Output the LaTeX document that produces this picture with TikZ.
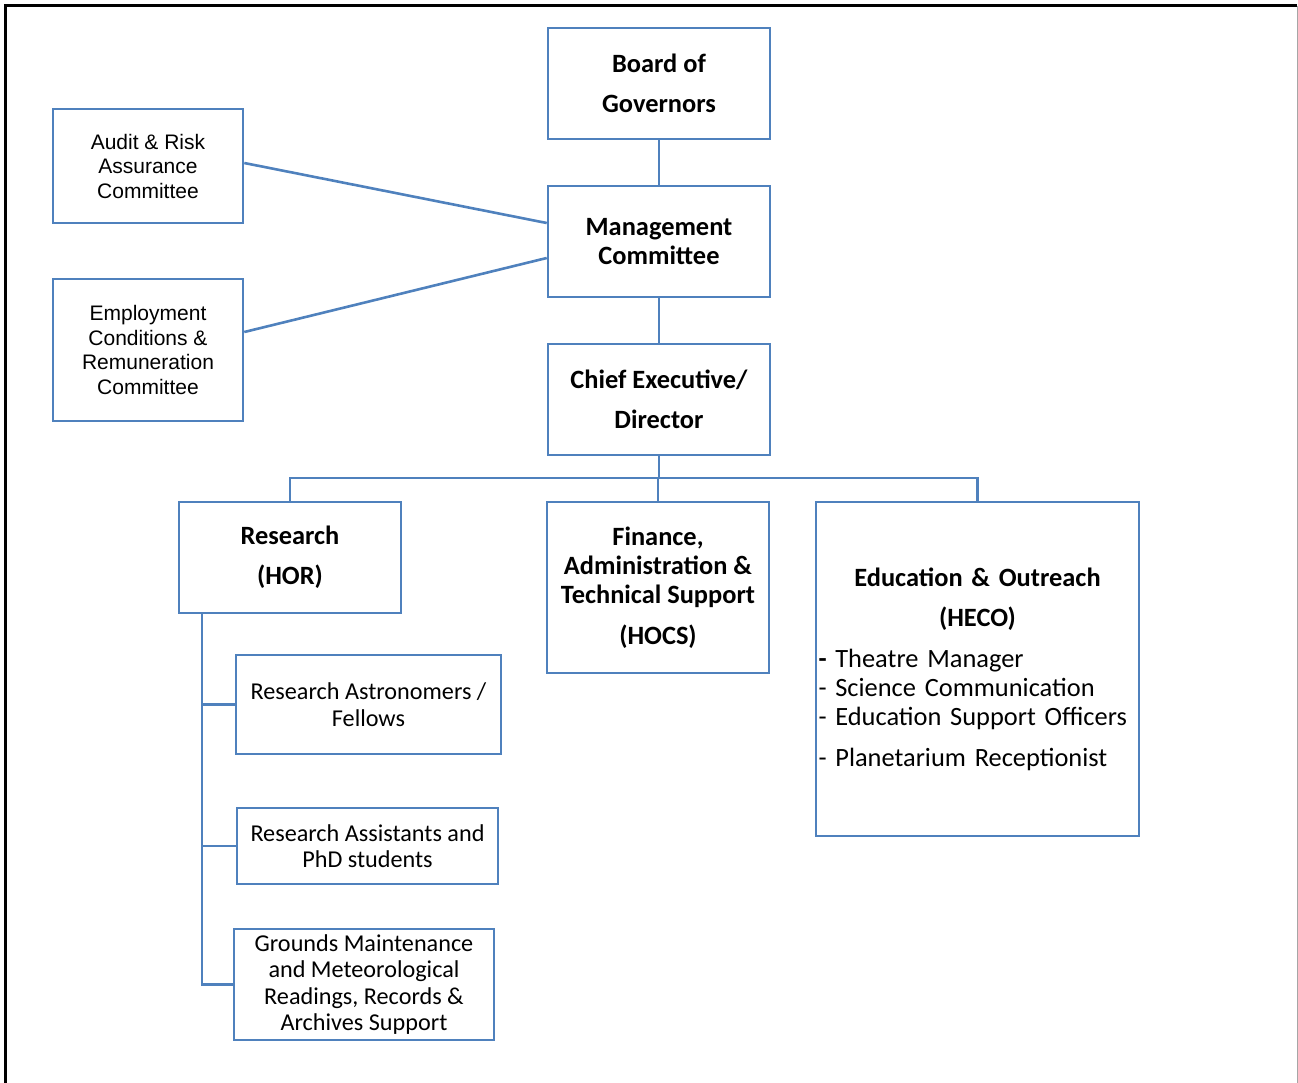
\documentclass[tikz,border=0pt]{standalone}
\usepackage{fontspec}
\setmainfont{Carlito}
\newfontfamily\arialfont{Liberation Sans}
\usetikzlibrary{shapes.geometric, arrows}
\definecolor{orgblue}{RGB}{79,129,189}
\tikzstyle{unit} = [rectangle, inner sep=0pt, align=center, draw=orgblue, line width=1.3pt]
\tikzstyle{head} = [unit, minimum width=111pt, minimum height=55.5pt, font=\fontsize{13.2}{14.5}\selectfont\bfseries]
\tikzstyle{panel} = [unit, minimum width=95pt, font=\arialfont\fontsize{10.5}{12.25}\selectfont]
\tikzstyle{team} = [unit, font=\fontsize{12.1}{13.2}\selectfont]
\tikzstyle{link} = [orgblue, line width=1.3pt]

\begin{document}
\begin{tikzpicture}[x=0.5pt, y=-0.5pt, node distance=79pt]
\useasboundingbox (0,0) rectangle (1298,1083);
% frame
\draw [line width=1.25pt] (5.5,1083) -- (5.5,5.5) -- (1297,5.5);
\draw [gray!70, line width=0.5pt] (1297.5,5.5) -- (1297.5,1083);

\node (board) [head] at (659,83.5) {Board of\\[5.5pt] Governors};
\node (mgmt) [head, below of=board] {Management\\ Committee};
\node (chief) [head, below of=mgmt] {Chief Executive/\\[5.5pt] Director};

\node (audit) [panel, minimum height=57pt] at (148,166) {Audit \& Risk\\ Assurance\\ Committee};
\node (emp) [panel, minimum height=71pt] at (148,350) {Employment\\ Conditions \&\\ Remuneration\\ Committee};

\node (res) [head] at (290,557.5) {Research\\[5.5pt] (HOR)};
\node (fin) [head, minimum height=85.5pt] at (658,587.5) {Finance,\\ Administration \&\\ Technical Support\\[6pt] (HOCS)};
\node (edu) [unit, minimum width=161.5pt, minimum height=167pt, text width=159pt, align=left,
  font=\fontsize{13.2}{14.5}\selectfont] at (977.5,669)
  {\makebox[159pt]{\textbf{Education \& Outreach}}\\[5.5pt]
   \makebox[159pt]{\textbf{(HECO)}}\\[6pt]
   {\bfseries -} Theatre Manager\\
   - Science Communication\\
   - Education Support Officers\\[6pt]
   - Planetarium Receptionist};

\node (astro) [team, minimum width=132.5pt, minimum height=49.5pt] at (368.5,704.5) {Research Astronomers /\\ Fellows};
\node (assist) [team, minimum width=130.5pt, minimum height=38pt] at (367.5,846) {Research Assistants and\\ PhD students};
\node (grounds) [team, minimum width=130pt, minimum height=55.5pt] at (364,984.5) {Grounds Maintenance\\ and Meteorological\\ Readings, Records \&\\ Archives Support};

\coordinate (bus) at (659,478);
\coordinate (spine) at (202,613);

\draw [link] (board) -- (mgmt);
\draw [link] (mgmt) -- (chief);
\draw [link] ([yshift=1.5pt]audit.east) -- ([yshift=9.25pt]mgmt.west);
\draw [link] ([yshift=9pt]emp.east) -- ([yshift=-8.25pt]mgmt.west);
\draw [link] (chief.south) -- (bus);
\draw [link] (res.north) |- (bus);
\draw [link] (edu.north) |- (bus);
\draw [link] (fin.north) -- (fin.north |- bus);
\draw [link] (spine) |- (astro.west);
\draw [link] (spine) |- (assist.west);
\draw [link] (spine) |- (grounds.west);
\end{tikzpicture}
\end{document}
